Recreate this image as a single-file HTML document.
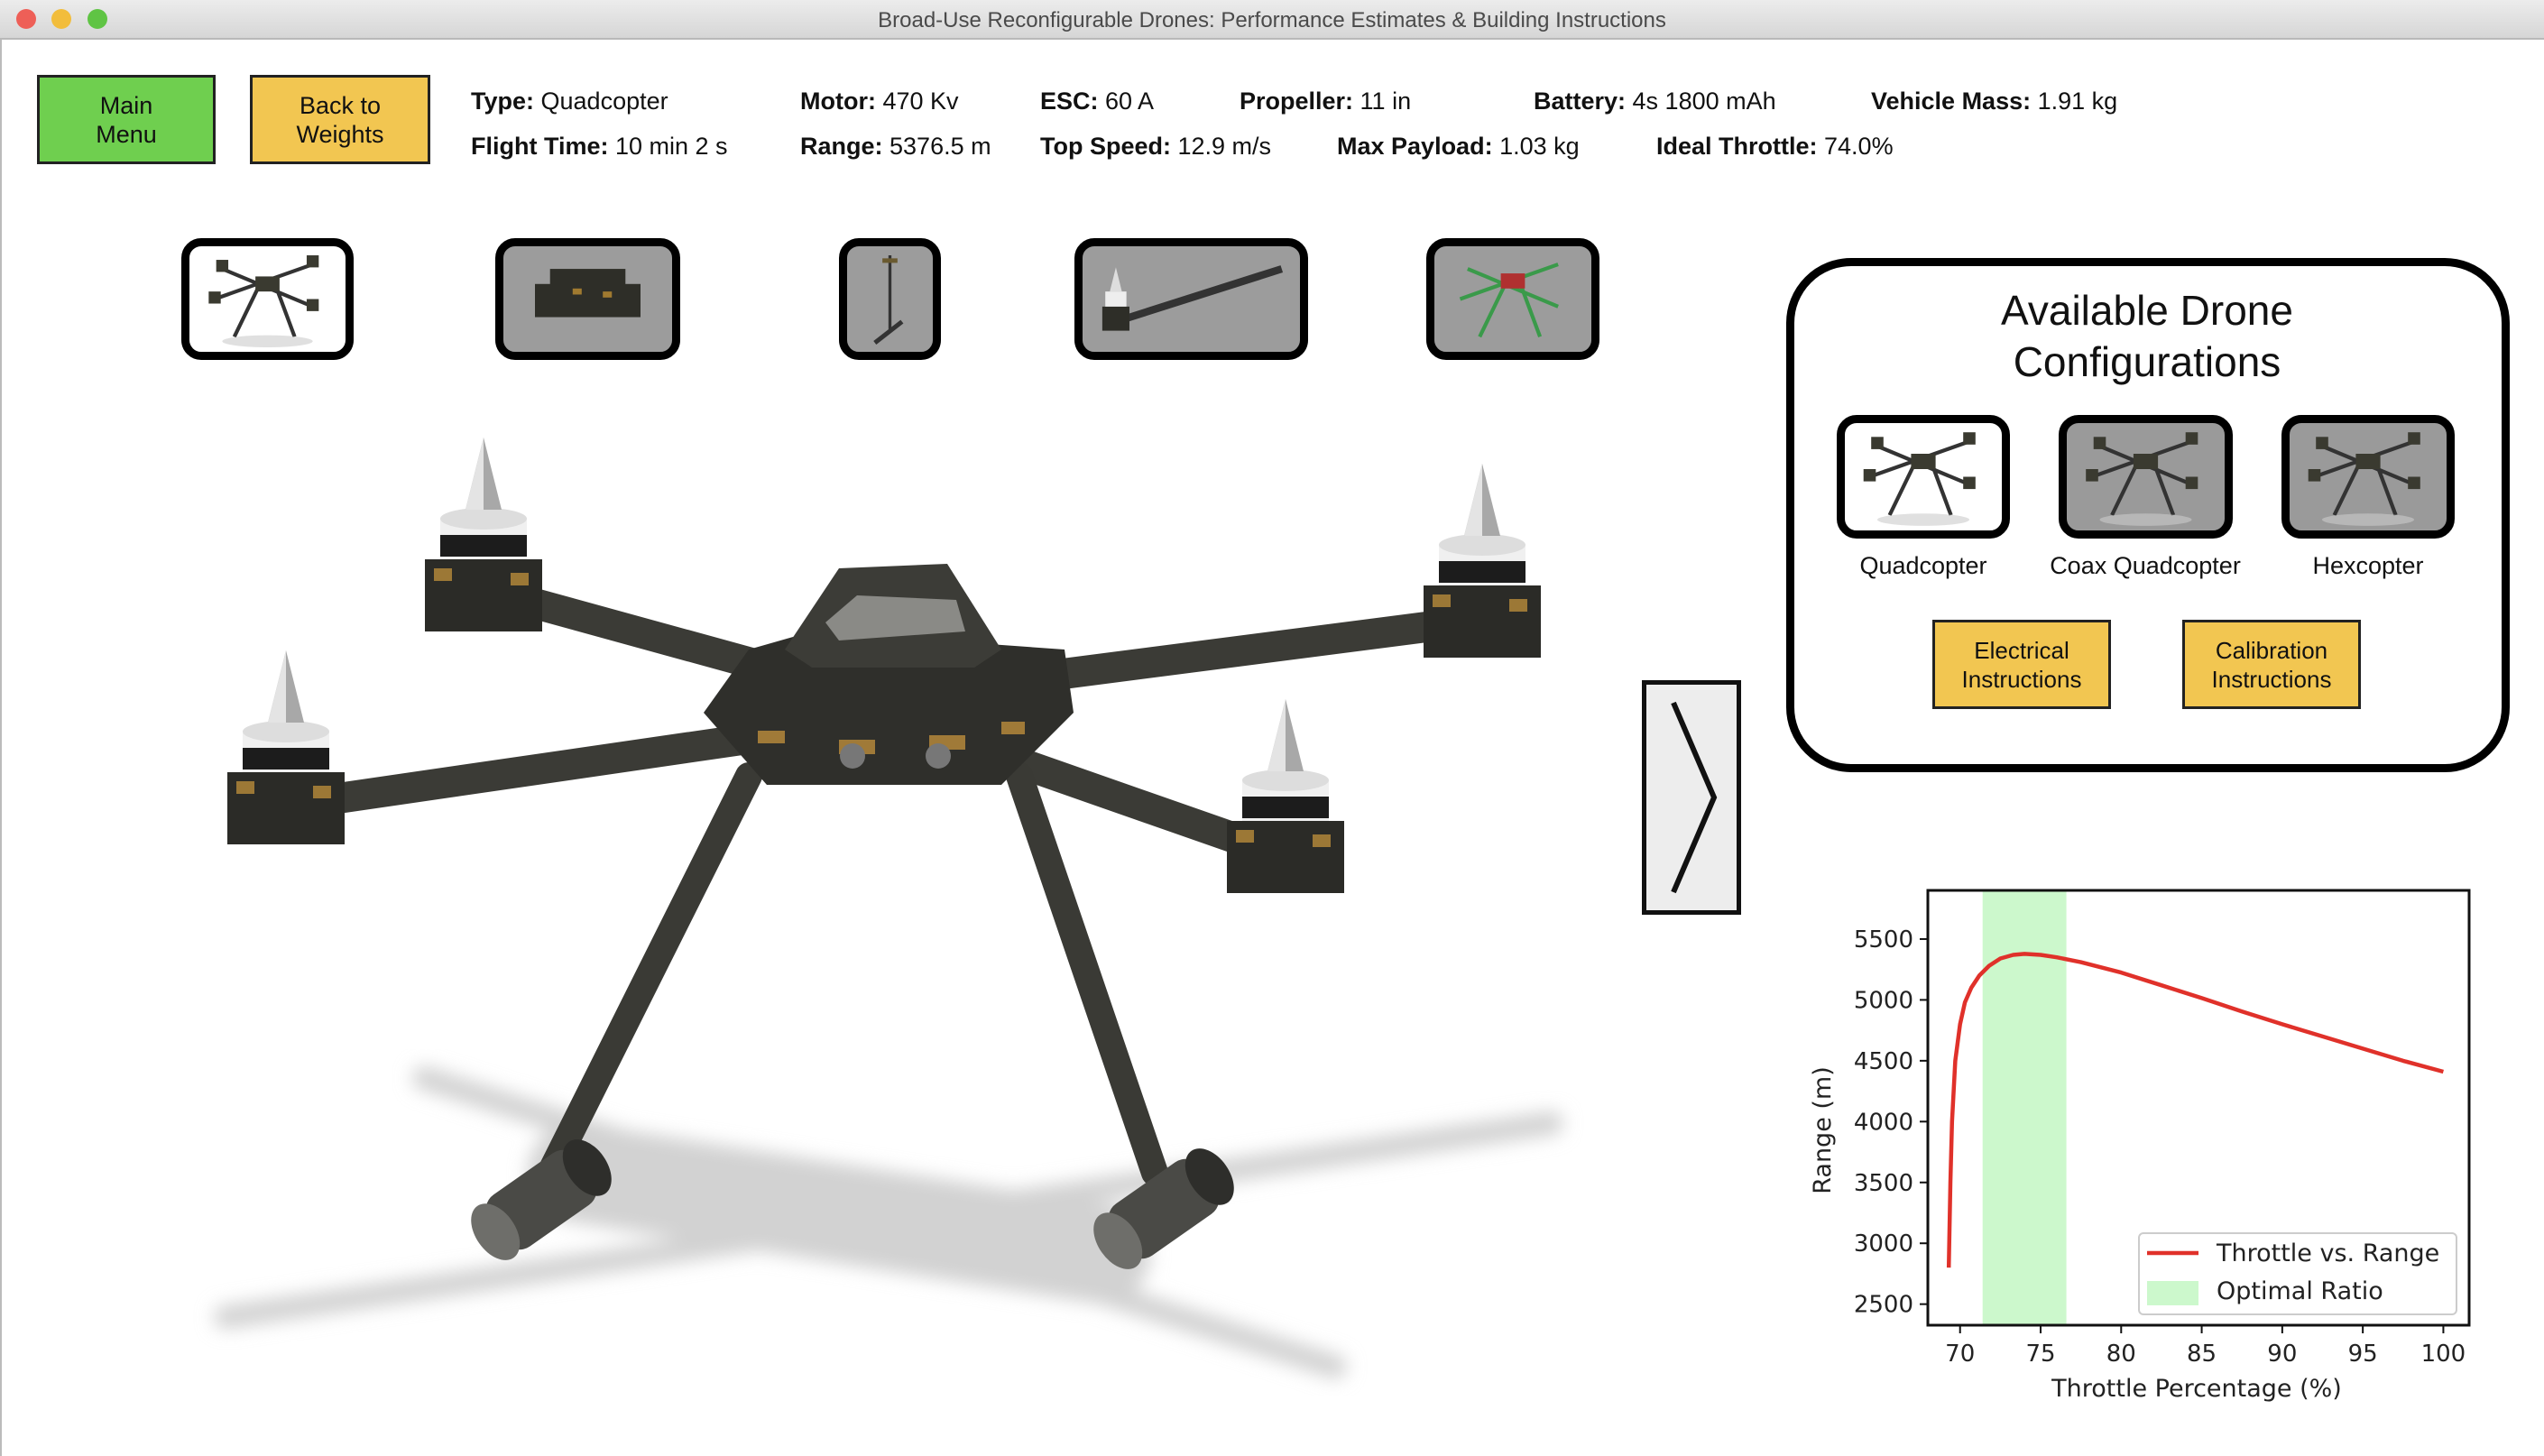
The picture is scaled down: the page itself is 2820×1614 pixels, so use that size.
<!DOCTYPE html>
<html><head><meta charset="utf-8">
<style>
html,body{margin:0;padding:0;}
body{width:2820px;height:1614px;position:relative;overflow:hidden;background:#fff;font-family:"Liberation Sans",sans-serif;color:#111;}
.titlebar{position:absolute;left:0;top:0;width:2820px;height:42px;background:linear-gradient(#ececec,#d6d6d6);border-bottom:2px solid #b8b8b8;}
.titlebar .t{position:absolute;left:0;right:0;top:9px;text-align:center;font-size:24px;color:#4a4a4a;}
.dot{position:absolute;top:10px;width:22px;height:22px;border-radius:50%;}
.btn{position:absolute;border:3px solid #222;box-sizing:border-box;display:flex;align-items:center;justify-content:center;text-align:center;font-size:27px;line-height:32px;}
.info{position:absolute;font-size:27px;white-space:nowrap;}
.info b{font-weight:bold;}
.thumb{position:absolute;border:9px solid #000;border-radius:22px;box-sizing:border-box;overflow:hidden;}
.lbl{position:absolute;font-size:27px;text-align:center;width:300px;}
</style></head><body>
<div class="titlebar">
<div class="dot" style="left:18px;background:#ee5f57"></div>
<div class="dot" style="left:57px;background:#f2bd3c"></div>
<div class="dot" style="left:97px;background:#5fc444"></div>
<div class="t">Broad-Use Reconfigurable Drones: Performance Estimates &amp; Building Instructions</div>
</div>
<div style="position:absolute;left:0;top:44px;width:2px;height:1570px;background:#bbb"></div>

<div class="btn" style="left:41px;top:83px;width:198px;height:99px;background:#6fcf4f">Main<br>Menu</div>
<div class="btn" style="left:277px;top:83px;width:200px;height:99px;background:#f2c651">Back to<br>Weights</div>

<div class="info" style="left:522px;top:97px"><b>Type:</b> Quadcopter</div>
<div class="info" style="left:887px;top:97px"><b>Motor:</b> 470 Kv</div>
<div class="info" style="left:1153px;top:97px"><b>ESC:</b> 60 A</div>
<div class="info" style="left:1374px;top:97px"><b>Propeller:</b> 11 in</div>
<div class="info" style="left:1700px;top:97px"><b>Battery:</b> 4s 1800 mAh</div>
<div class="info" style="left:2074px;top:97px"><b>Vehicle Mass:</b> 1.91 kg</div>
<div class="info" style="left:522px;top:147px"><b>Flight Time:</b> 10 min 2 s</div>
<div class="info" style="left:887px;top:147px"><b>Range:</b> 5376.5 m</div>
<div class="info" style="left:1153px;top:147px"><b>Top Speed:</b> 12.9 m/s</div>
<div class="info" style="left:1482px;top:147px"><b>Max Payload:</b> 1.03 kg</div>
<div class="info" style="left:1836px;top:147px"><b>Ideal Throttle:</b> 74.0%</div>

<svg width="0" height="0" style="position:absolute"><defs>
<symbol id="mini" viewBox="0 0 100 70">
<g stroke="#333" stroke-width="2.5" fill="none">
<line x1="20" y1="15" x2="80" y2="40"/><line x1="80" y1="12" x2="15" y2="35"/>
<line x1="45" y1="25" x2="28" y2="60"/><line x1="55" y1="25" x2="68" y2="60"/>
</g>
<g fill="#3a3a30"><rect x="16" y="9" width="8" height="8"/><rect x="76" y="6" width="8" height="8"/><rect x="11" y="30" width="8" height="8"/><rect x="76" y="35" width="8" height="8"/><rect x="42" y="20" width="16" height="10"/></g>
<ellipse cx="50" cy="63" rx="30" ry="4" fill="#ccc" opacity=".6"/>
</symbol></defs></svg>

<div class="thumb" style="left:201px;top:264px;width:191px;height:135px;background:#fff"><svg width="100%" height="100%" viewBox="0 0 100 70"><use href="#mini"/></svg></div>
<div class="thumb" style="left:549px;top:264px;width:205px;height:135px;background:#9c9c9c"><svg width="100%" height="100%" viewBox="0 0 100 70"><g fill="#2e2e28"><rect x="15" y="25" width="70" height="22"/><rect x="25" y="15" width="50" height="12"/></g><g fill="#a07a30"><rect x="40" y="28" width="6" height="4"/><rect x="60" y="30" width="6" height="4"/></g></svg></div>
<div class="thumb" style="left:930px;top:264px;width:113px;height:135px;background:#9c9c9c"><svg width="100%" height="100%" viewBox="0 0 40 70"><line x1="20" y1="6" x2="20" y2="55" stroke="#333" stroke-width="2"/><line x1="28" y1="50" x2="10" y2="64" stroke="#333" stroke-width="3"/><rect x="15" y="8" width="10" height="3" fill="#6a5a30"/></svg></div>
<div class="thumb" style="left:1191px;top:264px;width:259px;height:135px;background:#9c9c9c"><svg width="100%" height="100%" viewBox="0 0 130 70"><line x1="15" y1="50" x2="125" y2="15" stroke="#333" stroke-width="5"/><rect x="6" y="40" width="18" height="16" fill="#2e2e28"/><rect x="8" y="30" width="14" height="10" fill="#eee"/><polygon points="15,14 11,30 19,30" fill="#ddd"/></svg></div>
<div class="thumb" style="left:1581px;top:264px;width:192px;height:135px;background:#9c9c9c"><svg width="100%" height="100%" viewBox="0 0 100 70"><g stroke="#3a9a4a" stroke-width="2.5"><line x1="20" y1="15" x2="80" y2="40"/><line x1="80" y1="12" x2="15" y2="35"/><line x1="45" y1="25" x2="28" y2="60"/><line x1="55" y1="25" x2="68" y2="60"/></g><rect x="42" y="18" width="16" height="10" fill="#b03030"/></svg></div>

<svg style="position:absolute;left:0;top:420px" width="1800" height="1194" viewBox="0 420 1800 1194">
<defs><filter id="bl"><feGaussianBlur stdDeviation="10"/></filter></defs>
<g filter="url(#bl)" stroke="#d2d2d2" stroke-linecap="round">
<line x1="250" y1="1460" x2="1720" y2="1245" stroke-width="26"/>
<line x1="470" y1="1195" x2="1480" y2="1515" stroke-width="26"/>
<line x1="640" y1="1300" x2="1220" y2="1390" stroke-width="110"/>
</g>
<g stroke="#3b3b36" stroke-width="34" stroke-linecap="round">
<line x1="960" y1="770" x2="560" y2="660"/>
<line x1="1000" y1="770" x2="1620" y2="690"/>
<line x1="960" y1="800" x2="340" y2="890"/>
<line x1="1000" y1="800" x2="1400" y2="940"/>
</g>
<g stroke="#3a3a35" stroke-width="30" stroke-linecap="round">
<line x1="830" y1="860" x2="610" y2="1300"/>
<line x1="1130" y1="860" x2="1280" y2="1300"/>
</g>
<g>
<polygon points="780,790 830,720 900,700 1180,720 1190,790 1110,870 850,870" fill="#2f2f2b"/>
<polygon points="870,720 930,630 1050,625 1110,720 1080,740 900,740" fill="#3c3c37"/>
<polygon points="915,690 950,660 1060,665 1070,700 930,710" fill="#8a8a86"/>
<g fill="#a07a38"><rect x="840" y="810" width="30" height="14"/><rect x="930" y="820" width="40" height="16"/><rect x="1030" y="815" width="40" height="16"/><rect x="1110" y="800" width="26" height="14"/></g>
<circle cx="945" cy="838" r="14" fill="#777"/><circle cx="1040" cy="838" r="14" fill="#777"/>
</g>
<g>
<g transform="translate(600,1330) rotate(-35)"><rect x="-60" y="-35" width="120" height="70" rx="20" fill="#4a4a46"/><ellipse cx="-62" cy="0" rx="22" ry="35" fill="#6e6e6a"/><ellipse cx="62" cy="0" rx="22" ry="35" fill="#2e2e2b"/></g>
<g transform="translate(1290,1340) rotate(-35)"><rect x="-60" y="-35" width="120" height="70" rx="20" fill="#4a4a46"/><ellipse cx="-62" cy="0" rx="22" ry="35" fill="#6e6e6a"/><ellipse cx="62" cy="0" rx="22" ry="35" fill="#2e2e2b"/></g>
</g>
<g id="motors"></g>
</svg>

<div style="position:absolute;left:1820px;top:754px;width:110px;height:260px;border:5px solid #111;box-sizing:border-box;background:#ededed">
<svg width="100" height="250" viewBox="0 0 100 250"><polyline points="30,20 75,125 30,230" fill="none" stroke="#111" stroke-width="6"/></svg></div>

<div style="position:absolute;left:1980px;top:286px;width:802px;height:570px;border:9px solid #000;border-radius:72px;box-sizing:border-box"></div>
<div style="position:absolute;left:2080px;top:316px;width:600px;text-align:center;font-size:46px;line-height:57px">Available Drone<br>Configurations</div>
<div class="thumb" style="left:2036px;top:460px;width:192px;height:137px;background:#fff"><svg width="100%" height="100%" viewBox="0 0 100 70"><use href="#mini"/></svg></div>
<div class="thumb" style="left:2282px;top:460px;width:193px;height:137px;background:#9a9a9a"><svg width="100%" height="100%" viewBox="0 0 100 70"><use href="#mini"/></svg></div>
<div class="thumb" style="left:2529px;top:460px;width:192px;height:137px;background:#9a9a9a"><svg width="100%" height="100%" viewBox="0 0 100 70"><use href="#mini"/></svg></div>
<div class="lbl" style="left:1982px;top:612px">Quadcopter</div>
<div class="lbl" style="left:2228px;top:612px">Coax Quadcopter</div>
<div class="lbl" style="left:2475px;top:612px">Hexcopter</div>
<div class="btn" style="left:2142px;top:687px;width:198px;height:99px;background:#f2c651;font-size:26px">Electrical<br>Instructions</div>
<div class="btn" style="left:2419px;top:687px;width:198px;height:99px;background:#f2c651;font-size:26px">Calibration<br>Instructions</div>

<svg id="chart" style="position:absolute;left:0;top:0" width="2820" height="1614"></svg>

<script>
const throttle = [69.3,69.4,69.5,69.7,70.0,70.3,70.7,71.2,71.8,72.5,73.3,74.0,75.0,76.0,77.5,80,82.5,85,87.5,90,92.5,95,97.5,100];
const range = [2800,3500,4000,4500,4800,4980,5100,5200,5280,5340,5370,5378,5370,5350,5310,5225,5120,5015,4905,4800,4700,4600,4500,4410];
const optimalBand = [71.4, 76.6];
const xTicks = [70,75,80,85,90,95,100];
const yTicks = [2500,3000,3500,4000,4500,5000,5500];
const xLabel = "Throttle Percentage (%)";
const yLabel = "Range (m)";
const legendLabels = ["Throttle vs. Range","Optimal Ratio"];

const NS="http://www.w3.org/2000/svg";
const svg=document.getElementById('chart');
const L=2137,R=2737,T=987,B=1469;
const xmin=68.0,xmax=101.6,ymin=2327,ymax=5900;
const sx=v=>L+(v-xmin)/(xmax-xmin)*(R-L);
const sy=v=>B-(v-ymin)/(ymax-ymin)*(B-T);
function mk(tag,attrs){const e=document.createElementNS(NS,tag);for(const k in attrs)e.setAttribute(k,attrs[k]);svg.appendChild(e);return e;}

const band=mk('rect',{x:sx(optimalBand[0]),y:T,width:sx(optimalBand[1])-sx(optimalBand[0]),height:B-T,fill:'#ccf8cc'});



const pts=throttle.map((t,i)=>sx(t).toFixed(1)+','+sy(range[i]).toFixed(1)).join(' ');
const line=mk('polyline',{points:pts,fill:'none',stroke:'#e0312a','stroke-width':4.5,'stroke-linejoin':'round'});



const frame=mk('rect',{x:L,y:T,width:R-L,height:B-T,fill:'none',stroke:'#111','stroke-width':3});



xTicks.forEach(v=>{
  mk('line',{x1:sx(v),x2:sx(v),y1:B,y2:B+9,stroke:'#111','stroke-width':2});
  const t=mk('text',{x:sx(v),y:B+40,'text-anchor':'middle','font-size':26,'font-family':'DejaVu Sans, sans-serif',fill:'#222'});
  t.textContent=v;
  
  
});
yTicks.forEach(v=>{
  mk('line',{x1:L-9,x2:L,y1:sy(v),y2:sy(v),stroke:'#111','stroke-width':2});
  const t=mk('text',{x:L-16,y:sy(v)+9,'text-anchor':'end','font-size':26,'font-family':'DejaVu Sans, sans-serif',fill:'#222'});
  t.textContent=v;
  
  
});
const xl=mk('text',{x:(L+R)/2-2,y:B+79,'text-anchor':'middle','font-size':27,'font-family':'DejaVu Sans, sans-serif',fill:'#222'});
xl.textContent=xLabel;


const yl=mk('text',{x:0,y:0,'text-anchor':'middle','font-size':27,'font-family':'DejaVu Sans, sans-serif',fill:'#222',transform:`translate(2029,${(T+B)/2+25}) rotate(-90)`});
yl.textContent=yLabel;



const lg=mk('rect',{x:2371,y:1367,width:352,height:90,rx:5,fill:'#fff',stroke:'#ccc','stroke-width':2});


mk('line',{x1:2380,x2:2437,y1:1389,y2:1389,stroke:'#e0312a','stroke-width':4.5});
mk('rect',{x:2380,y:1420,width:57,height:27,fill:'#ccf8cc'});
legendLabels.forEach((s,i)=>{
  const t=mk('text',{x:2457,y:1398+i*42,'font-size':27,'font-family':'DejaVu Sans, sans-serif',fill:'#222'});
  t.textContent=s;
  
  
});

const mg=document.getElementById('motors');
[[536,655],[1643,684],[317,891],[1425,945]].forEach(([x,y])=>{
  const g=document.createElementNS(NS,'g');
  
  
  g.innerHTML=`<rect x="${x-65}" y="${y-35}" width="130" height="80" fill="#2b2b27"/>
  <rect x="${x-55}" y="${y-25}" width="20" height="14" fill="#9c7836"/><rect x="${x+30}" y="${y-20}" width="20" height="14" fill="#9c7836"/>
  <rect x="${x-48}" y="${y-80}" width="96" height="45" fill="#f0f0f0"/>
  <rect x="${x-48}" y="${y-62}" width="96" height="24" fill="#1c1c1c"/>
  <ellipse cx="${x}" cy="${y-80}" rx="48" ry="12" fill="#ddd"/>
  <polygon points="${x},${y-170} ${x-20},${y-90} ${x+20},${y-90}" fill="#a8a8a8"/>
  <polygon points="${x},${y-170} ${x-20},${y-90} ${x},${y-90}" fill="#e4e4e4"/>`;
  mg.appendChild(g);
});
</script>
</body></html>
